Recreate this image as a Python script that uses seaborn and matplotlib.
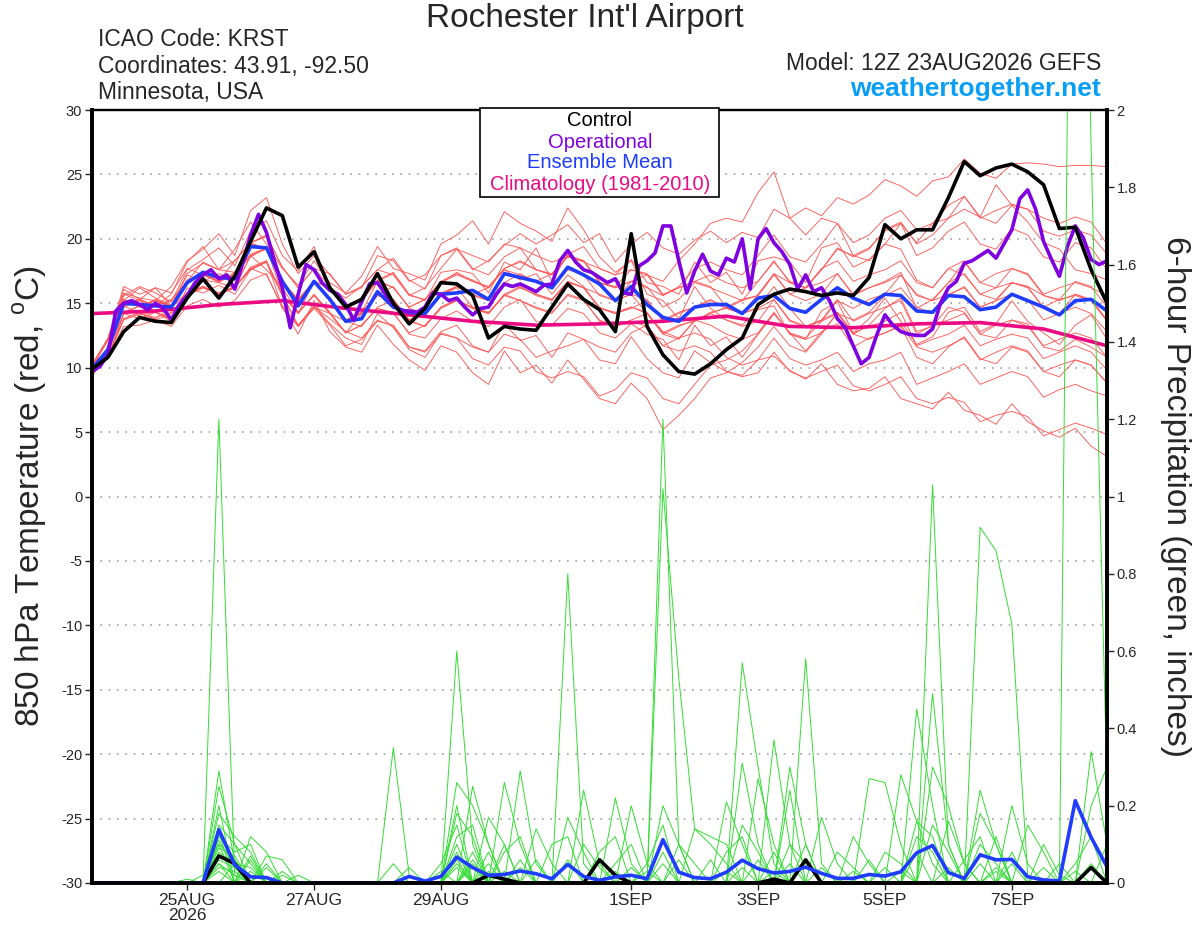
import numpy as np
import pandas as pd
import matplotlib
matplotlib.use('Agg')
import matplotlib.pyplot as plt
from matplotlib.patches import Rectangle
import seaborn as sns

# --- data (6-hourly GEFS, 12Z 23AUG2026) ---
start = pd.Timestamp('2026-08-23 12:00')
times = pd.date_range(start, periods=65, freq='6h')
times_op = pd.date_range(start, periods=129, freq='3h')
times_clim = pd.date_range(start, periods=17, freq='24h')

control = [9.9, 10.8, 12.8, 13.9, 13.6, 13.5, 15.4, 16.9, 15.4, 17.1, 19.8, 22.4, 21.8,
           17.8, 19.0, 16.2, 14.7, 15.3, 17.3, 15.0, 13.4, 14.6, 16.6, 16.5, 15.6,
           12.3, 13.2, 13.0, 12.9, 14.7, 16.5, 15.3, 14.5, 12.8, 20.4, 13.2, 11.0, 9.7,
           9.5, 10.3, 11.4, 12.3, 14.9, 15.7, 16.1,
           15.9, 15.6, 15.8, 15.6, 17.0, 21.1, 20.0, 20.7, 20.7, 23.2, 26.0, 24.9, 25.5,
           25.8, 25.2, 24.2, 20.8, 20.9, 17.6, 15.0]

operational = [9.7, 10.1, 11.0, 14.4, 15.0, 15.2, 14.9, 14.5, 15.0, 14.6, 13.7, 14.9, 15.6,
               16.6, 17.2, 17.6, 16.9, 17.2, 16.1, 18.1, 20.3, 21.9, 20.5, 18.3, 16.2, 13.1,
               15.7, 18.0, 17.6, 16.6, 16.0, 15.7, 14.9, 13.7, 15.1, 16.5, 16.6, 15.7, 14.9,
               14.4, 14.4, 14.3, 14.7, 15.8, 15.7, 15.2, 15.4, 14.7, 14.1,
               14.6, 14.7, 15.7, 16.5, 16.3, 16.5, 16.2, 15.9, 16.4, 16.5, 18.3, 19.1, 18.2,
               17.6, 17.4, 17.0, 16.6, 16.9, 15.8, 15.7, 17.9, 18.3, 18.9, 21.0, 21.0, 18.3,
               15.8, 17.5, 18.8, 17.5, 17.2, 18.5, 18.2, 20.0, 16.1, 20.0, 20.8, 19.7, 19.0,
               18.0, 16.1,
               17.2, 15.9, 16.2, 15.2, 13.8, 13.1, 11.7, 10.3, 10.8, 12.6, 14.1, 13.3, 12.8,
               12.6, 12.5, 12.5, 13.0, 15.0, 16.2, 16.7, 18.1, 18.3, 18.7, 19.1, 18.5, 19.6,
               20.7, 23.1, 23.8, 22.3, 19.8, 18.4, 17.1, 19.4, 21.0, 20.1, 18.4, 18.0, 18.3]

ens_mean = [9.9, 11.4, 15.0, 14.9, 14.8, 14.7, 16.6, 17.4, 17.0, 16.9, 19.4, 19.3, 16.7,
            14.8, 16.7, 15.3, 13.6, 13.8, 15.9, 14.7, 14.3, 14.2, 15.7, 15.8, 16.0, 15.3,
            17.3, 17.0, 16.7, 16.2, 17.8, 17.2, 16.5, 15.2, 16.3, 14.9, 13.9, 13.6, 14.7,
            14.9, 14.9, 14.2, 15.4, 15.6, 14.6, 14.3, 15.3, 16.2, 15.4, 14.9, 15.7, 15.6,
            14.4, 14.3, 15.6, 15.5, 14.5, 14.7, 15.7, 15.2, 14.7, 14.1, 15.2, 15.3, 14.4]

climatology = [14.2, 14.4, 14.9, 15.2, 14.6, 14.1, 13.6, 13.3, 13.4, 13.6, 14.0, 13.2,
               13.1, 13.4, 13.5, 13.0, 11.7]

# ensemble members, 65 six-hourly values each (rows of 8, last row 9)
temp_members = [
    [10.2, 11.4, 15.6, 16.3, 15.8, 15.1, 17.6, 18.4, 19.3, 17.9, 20.6, 21.4, 18.7, 17.5, 19.4, 16.2,
     15.4, 16.3, 17.6, 18.5, 16.8, 16.1, 18.7, 19.2, 17.6, 18.3, 19.5, 20.4, 19.6, 20.3, 21.1, 19.7,
     20.4, 18.2, 19.6, 20.5, 19.3, 18.8, 19.9, 20.6, 19.7, 20.5, 20.1, 22.3, 21.6, 22.4, 21.8, 23.2,
     22.7, 23.4, 24.6, 24.1, 23.3, 24.5, 24.8, 26.2, 25.1, 24.7, 25.8, 25.9, 25.8, 25.6, 25.7, 25.7, 25.6],
    [9.8, 10.9, 13.7, 14.2, 13.9, 14.3, 15.6, 16.2, 15.7, 16.3, 17.6, 18.2, 15.6, 13.3, 14.8, 13.4,
     12.3, 11.8, 14.2, 13.1, 11.4, 10.8, 12.7, 12.3, 11.6, 11.2, 13.4, 12.1, 12.5, 10.8, 12.7, 12.2,
     10.6, 10.3, 12.4, 10.7, 9.6, 9.2, 11.3, 10.4, 9.7, 9.4, 10.6, 10.9, 9.8, 9.1, 10.3, 8.7,
     8.2, 8.4, 9.3, 7.6, 7.2, 6.8, 8.1, 6.7, 6.3, 5.6, 7.2, 5.8, 5.1, 4.6, 5.3, 3.9, 3.1],
    [10.1, 12.2, 16.1, 15.3, 14.8, 15.7, 18.2, 19.4, 17.6, 19.2, 21.3, 19.6, 17.7, 16.4, 18.3, 16.6,
     15.8, 17.1, 19.4, 17.7, 17.3, 16.8, 19.6, 20.3, 21.4, 19.6, 22.1, 21.2, 20.6, 19.8, 22.4, 20.7,
     18.6, 17.4, 18.3, 15.7, 15.2, 13.8, 16.3, 14.6, 13.7, 13.3, 14.5, 14.8, 12.6, 12.2, 14.4, 15.1,
     12.7, 13.8, 15.4, 13.6, 11.8, 12.4, 14.3, 14.7, 12.8, 13.4, 15.2, 13.6, 12.7, 11.8, 13.3, 14.1, 12.2],
    [9.4, 10.8, 13.8, 14.1, 14.3, 13.6, 16.2, 15.8, 16.4, 15.7, 17.6, 18.3, 14.7, 12.6, 15.2, 12.8,
     11.6, 11.2, 13.3, 11.8, 10.6, 9.8, 11.7, 11.2, 9.6, 8.7, 11.3, 9.6, 10.2, 8.8, 10.6, 9.1,
     7.6, 7.2, 8.8, 7.6, 5.2, 6.3, 7.6, 9.2, 9.6, 10.4, 11.6, 13.2, 11.7, 11.2, 12.6, 14.3,
     12.6, 13.3, 14.6, 15.4, 12.8, 13.2, 14.7, 14.3, 12.6, 12.3, 13.7, 13.4, 11.6, 11.3, 12.2, 11.6, 10.8],
    [10.3, 12.1, 15.2, 16.2, 15.4, 14.8, 17.3, 18.1, 17.6, 17.4, 19.7, 20.3, 17.8, 16.2, 17.7, 16.3,
     14.6, 15.4, 16.8, 17.4, 15.7, 15.2, 17.4, 17.6, 17.3, 15.8, 18.2, 17.6, 19.3, 16.7, 18.8, 19.4,
     17.7, 17.2, 18.4, 16.6, 16.3, 15.7, 18.2, 16.6, 17.4, 15.7, 18.3, 18.6, 18.2, 16.6, 19.3, 19.7,
     17.8, 18.4, 19.6, 21.2, 18.7, 19.3, 20.6, 21.3, 19.6, 19.2, 20.8, 20.3, 18.6, 18.2, 19.7, 19.3, 17.6],
    [9.9, 10.7, 14.2, 14.8, 14.3, 13.8, 15.7, 16.3, 15.8, 16.2, 18.7, 17.6, 16.2, 14.3, 15.6, 14.2,
     12.7, 13.3, 14.6, 14.3, 12.6, 12.3, 13.8, 14.4, 13.6, 13.2, 14.7, 15.3, 13.6, 13.3, 14.6, 14.2,
     12.7, 12.3, 13.4, 12.6, 12.2, 10.6, 13.3, 11.7, 12.4, 10.8, 12.6, 14.2, 12.7, 11.3, 12.8, 13.4,
     11.6, 12.3, 12.7, 13.2, 10.8, 10.3, 11.6, 12.4, 10.7, 10.3, 11.6, 11.2, 9.7, 9.3, 10.6, 10.2, 8.8],
    [10.2, 12.3, 15.8, 15.4, 15.2, 16.3, 18.3, 19.2, 20.4, 18.7, 22.2, 23.2, 19.6, 17.3, 18.7, 17.2,
     15.7, 16.3, 17.6, 17.2, 15.6, 15.3, 16.7, 17.3, 16.8, 16.2, 17.6, 16.8, 17.3, 15.7, 17.2, 16.3,
     14.6, 14.3, 14.7, 14.2, 12.7, 13.3, 13.6, 14.2, 14.7, 15.3, 15.6, 17.2, 15.7, 15.2, 15.7, 17.3,
     15.6, 16.2, 16.7, 17.4, 14.6, 15.3, 16.6, 18.2, 16.6, 17.3, 17.7, 17.2, 15.6, 15.3, 16.7, 16.3, 14.7],
    [10.1, 11.2, 14.8, 15.3, 16.2, 14.8, 16.7, 17.3, 16.6, 17.4, 18.6, 19.3, 15.7, 14.2, 16.7, 15.3,
     13.6, 14.3, 16.7, 16.2, 14.7, 15.3, 16.6, 17.4, 16.7, 16.3, 17.7, 18.2, 17.6, 17.3, 18.6, 18.3,
     16.6, 16.3, 17.6, 17.2, 16.7, 18.3, 19.6, 21.2, 21.6, 21.3, 23.6, 25.2, 21.6, 20.3, 21.6, 21.2,
     18.7, 18.3, 19.6, 19.2, 16.8, 16.2, 17.7, 17.2, 15.7, 15.3, 16.6, 16.3, 14.6, 14.2, 15.7, 15.2, 13.6],
    [9.9, 10.8, 14.2, 13.8, 14.3, 13.7, 15.8, 16.3, 15.7, 16.2, 17.7, 17.2, 14.8, 13.3, 14.7, 13.8,
     12.8, 12.3, 13.7, 13.2, 11.6, 11.3, 12.8, 13.3, 11.7, 11.2, 12.6, 12.2, 10.8, 11.3, 11.7, 12.2,
     11.6, 11.2, 12.7, 13.3, 11.7, 12.3, 13.6, 14.3, 14.6, 14.2, 15.7, 17.3, 16.6, 16.2, 17.6, 19.3,
     18.6, 19.2, 20.7, 21.3, 19.6, 20.3, 21.6, 22.3, 21.7, 21.2, 22.6, 22.3, 20.6, 20.2, 20.7, 20.3, 18.8],
    [10.0, 12.1, 15.3, 14.7, 15.2, 14.8, 17.2, 16.7, 17.3, 16.8, 19.6, 19.2, 16.7, 15.3, 16.7, 15.2,
     13.7, 14.3, 15.7, 16.3, 14.6, 14.2, 15.8, 16.3, 15.7, 15.2, 16.6, 17.3, 16.6, 16.2, 17.6, 17.2,
     15.6, 15.2, 15.7, 15.3, 13.6, 14.2, 14.7, 15.3, 14.6, 14.2, 14.7, 16.3, 14.6, 13.2, 13.7, 15.3,
     13.6, 14.2, 14.7, 15.2, 12.6, 13.3, 13.7, 14.2, 12.6, 13.3, 13.7, 13.2, 11.7, 12.2, 12.7, 12.3, 10.8],
    [10.1, 11.2, 14.7, 15.3, 14.8, 15.2, 16.7, 17.3, 16.8, 17.2, 19.7, 20.2, 16.7, 15.2, 16.7, 16.3,
     14.7, 15.2, 16.7, 17.3, 15.6, 16.2, 17.7, 19.2, 18.7, 18.2, 19.6, 19.3, 18.7, 18.2, 18.6, 18.3,
     16.7, 15.2, 15.7, 14.2, 12.8, 12.3, 12.7, 12.2, 10.8, 10.2, 10.6, 12.3, 10.7, 10.2, 10.6, 11.2,
     9.7, 10.3, 10.6, 11.2, 8.7, 9.2, 9.7, 10.3, 8.7, 9.2, 9.7, 9.3, 7.7, 8.3, 8.7, 8.2, 7.8],
    [9.8, 11.3, 14.8, 14.2, 13.8, 14.7, 15.8, 16.3, 15.7, 16.2, 17.8, 18.3, 15.6, 14.2, 15.7, 14.3,
     12.7, 14.2, 15.8, 15.2, 13.7, 14.2, 15.7, 16.3, 15.6, 15.2, 16.6, 16.2, 15.7, 15.3, 16.6, 16.2,
     14.6, 14.2, 14.7, 14.3, 12.6, 13.2, 13.7, 14.2, 13.7, 13.2, 13.6, 15.3, 13.7, 13.2, 13.6, 15.2,
     14.6, 15.3, 15.7, 17.2, 15.7, 15.2, 16.6, 17.3, 15.7, 16.2, 16.6, 16.3, 15.6, 15.2, 15.7, 15.3, 13.7],
    [10.2, 12.2, 16.3, 15.7, 16.2, 15.8, 17.7, 17.2, 16.7, 18.3, 19.7, 20.2, 17.8, 16.2, 17.7, 17.3,
     15.7, 16.2, 18.7, 18.3, 16.7, 17.2, 18.7, 19.3, 17.7, 17.2, 18.6, 19.3, 17.6, 17.2, 18.7, 18.3,
     16.6, 16.2, 16.7, 16.3, 14.7, 15.3, 16.6, 16.2, 15.7, 15.2, 16.7, 18.3, 16.6, 16.2, 17.7, 18.3,
     16.7, 17.2, 17.6, 18.3, 16.6, 16.2, 17.7, 18.3, 16.6, 16.2, 17.7, 17.3, 15.7, 16.2, 16.6, 16.2, 15.6],
    [9.9, 11.2, 14.3, 14.8, 15.2, 14.7, 15.8, 16.7, 15.6, 16.3, 17.7, 18.2, 15.7, 13.2, 14.6, 13.3,
     11.7, 12.2, 13.6, 13.3, 11.6, 11.2, 12.6, 12.3, 10.7, 10.2, 11.6, 11.3, 9.7, 9.2, 9.7, 9.3,
     7.8, 8.3, 9.6, 9.2, 7.6, 7.2, 8.7, 10.2, 10.6, 11.3, 12.6, 14.2, 12.7, 12.3, 13.6, 14.2,
     13.7, 14.3, 15.6, 16.2, 14.7, 14.2, 15.6, 16.3, 14.7, 15.2, 16.6, 16.2, 14.7, 15.3, 15.6, 15.2, 13.7],
    [10.0, 11.3, 15.2, 14.7, 15.3, 14.8, 16.8, 17.2, 16.7, 17.2, 18.8, 19.3, 16.7, 15.2, 16.6, 16.3,
     14.7, 15.2, 16.8, 16.2, 14.7, 15.3, 16.6, 17.2, 16.7, 16.2, 17.7, 18.3, 17.6, 17.2, 18.7, 18.3,
     16.6, 16.2, 16.7, 17.2, 15.6, 16.3, 17.7, 18.2, 17.6, 17.2, 18.7, 20.3, 18.6, 18.2, 19.6, 21.2,
     19.7, 20.3, 21.6, 22.2, 20.7, 21.2, 21.6, 23.3, 21.6, 22.2, 22.7, 22.3, 21.6, 21.2, 21.7, 21.3, 19.6],
    [9.6, 10.8, 13.8, 14.3, 13.7, 14.2, 15.7, 16.2, 15.8, 16.3, 17.6, 18.2, 15.7, 14.3, 15.6, 14.2,
     12.7, 13.3, 14.6, 14.2, 12.7, 13.3, 14.7, 15.2, 14.6, 14.2, 15.6, 15.2, 14.7, 14.3, 15.6, 15.2,
     13.7, 13.2, 13.6, 13.2, 11.7, 11.3, 11.7, 11.2, 9.7, 9.3, 9.6, 11.2, 9.7, 9.2, 9.7, 10.2,
     8.6, 8.2, 8.7, 9.3, 7.6, 7.2, 7.7, 7.3, 5.8, 6.3, 6.6, 6.2, 4.7, 5.2, 5.7, 5.3, 4.8],
    [10.1, 10.8, 13.2, 13.3, 13.7, 13.2, 14.8, 15.3, 14.7, 15.2, 16.8, 17.3, 14.6, 13.2, 14.7, 14.2,
     13.6, 14.2, 15.7, 15.3, 13.7, 14.2, 15.6, 16.3, 15.7, 16.2, 17.6, 17.2, 16.7, 17.3, 18.6, 18.2,
     17.7, 17.2, 17.6, 17.3, 15.7, 16.2, 16.7, 16.3, 14.7, 14.2, 14.6, 15.3, 13.6, 13.2, 13.7, 14.3,
     12.7, 13.2, 13.6, 14.3, 11.7, 12.2, 12.6, 13.3, 11.7, 12.2, 12.6, 12.3, 10.7, 11.2, 11.7, 11.2, 9.8],
    [10.2, 12.2, 15.7, 15.2, 14.8, 15.3, 16.7, 18.2, 17.6, 18.3, 19.7, 19.2, 16.7, 15.2, 16.7, 15.3,
     13.7, 14.2, 15.6, 15.3, 13.7, 13.2, 14.6, 15.2, 14.7, 14.2, 15.7, 16.3, 15.6, 15.2, 16.7, 16.2,
     15.7, 15.2, 16.7, 16.2, 15.6, 16.2, 16.7, 17.2, 16.6, 16.2, 16.7, 18.2, 16.7, 16.2, 16.6, 17.3,
     15.7, 16.2, 16.6, 17.2, 15.6, 15.2, 15.7, 16.2, 14.7, 15.2, 15.7, 15.3, 13.7, 14.2, 14.7, 14.2, 12.8],
    [10.0, 11.2, 15.3, 14.8, 15.2, 14.7, 16.8, 17.2, 16.7, 17.3, 18.7, 19.2, 16.6, 15.3, 16.7, 15.2,
     13.7, 14.3, 15.6, 15.2, 13.7, 14.3, 15.6, 16.2, 14.7, 14.3, 15.6, 16.2, 15.7, 15.3, 16.7, 16.2,
     14.7, 14.2, 14.6, 15.2, 13.7, 14.3, 14.7, 15.2, 14.6, 15.2, 15.6, 17.3, 15.7, 16.2, 17.6, 19.2,
     18.7, 19.3, 20.6, 21.2, 19.7, 21.2, 22.6, 23.3, 21.7, 24.2, 22.6, 21.3, 19.7, 19.2, 17.6, 17.3, 16.8],
    [9.8, 11.2, 14.7, 15.2, 14.3, 13.8, 15.7, 16.8, 16.6, 16.2, 18.7, 19.3, 16.6, 15.2, 16.7, 15.3,
     13.6, 13.2, 14.7, 15.2, 13.6, 13.2, 14.7, 15.3, 14.6, 14.2, 15.7, 15.2, 14.6, 14.2, 15.7, 15.3,
     13.6, 13.2, 13.7, 14.2, 12.6, 12.2, 13.7, 13.3, 12.6, 12.2, 12.7, 14.3, 12.6, 12.2, 12.7, 14.2,
     12.6, 12.2, 12.7, 13.3, 11.6, 11.2, 11.7, 12.3, 10.6, 11.2, 11.7, 11.3, 9.7, 10.2, 10.6, 10.2, 8.8],
]

precip_control = [0, 0, 0, 0, 0, 0, 0, 0, 0.07, 0.05, 0, 0, 0, 0, 0, 0,
                  0, 0, 0, 0, 0, 0, 0, 0, 0, 0.02, 0.01, 0, 0, 0, 0, 0,
                  0.06, 0.02, 0, 0, 0, 0, 0, 0, 0, 0, 0, 0.01, 0, 0.06, 0, 0,
                  0, 0, 0, 0, 0, 0, 0, 0, 0, 0, 0, 0, 0, 0, 0, 0.04, 0]

precip_mean = [0, 0, 0, 0, 0, 0, 0, 0, 0.138, 0.047, 0.016, 0.014, 0, 0, 0, 0,
               0, 0, 0, 0, 0.017, 0.005, 0.017, 0.067, 0.04, 0.02, 0.022, 0.031, 0.024, 0.011, 0.048, 0.017,
               0.007, 0.016, 0.02, 0.011, 0.112, 0.028, 0.014, 0.011, 0.028, 0.059, 0.037, 0.026, 0.03, 0.041, 0.025, 0.012,
               0.012, 0.022, 0.018, 0.029, 0.078, 0.097, 0.027, 0.012, 0.073, 0.06, 0.061, 0.016, 0.008, 0.005, 0.213, 0.118, 0.042]

# member precip: only the non-zero 6-hour steps {step index: inches}
precip_members = [
    {8: 1.2, 9: 0.02, 23: 0.6, 24: 0.1, 36: 1.2, 37: 0.1, 53: 1.03, 54: 0.1},
    {8: 0.29, 9: 0.05, 19: 0.35, 20: 0.02, 30: 0.8, 31: 0.05, 56: 0.92, 57: 0.86, 58: 0.67, 59: 0.02},
    {8: 0.25, 9: 0.1, 10: 0.05, 23: 0.26, 24: 0.2, 25: 0.1, 36: 1.02, 37: 0.53, 38: 0.14, 39: 0.1, 40: 0.05},
    {8: 0.2, 10: 0.12, 11: 0.08, 23: 0.2, 26: 0.26, 27: 0.1, 41: 0.57, 42: 0.3, 43: 0.05, 52: 0.45, 53: 0.2},
    {8: 0.18, 9: 0.12, 10: 0.08, 24: 0.25, 25: 0.1, 27: 0.29, 28: 0.05, 41: 0.31, 42: 0.1, 45: 0.58, 46: 0.05,
     53: 0.49, 54: 0.1},
    {8: 0.15, 9: 0.1, 11: 0.07, 12: 0.06, 23: 0.18, 24: 0.12, 31: 0.24, 32: 0.05, 43: 0.37, 44: 0.1, 56: 0.24,
     57: 0.1, 62: 4.0, 63: 1.9, 64: 0.25},
    {8: 0.12, 9: 0.08, 10: 0.1, 19: 0.05, 25: 0.17, 26: 0.1, 33: 0.22, 34: 0.05, 44: 0.3, 45: 0.1, 49: 0.27,
     50: 0.26, 51: 0.1},
    {8: 0.1, 9: 0.06, 13: 0.02, 20: 0.04, 23: 0.12, 24: 0.15, 34: 0.2, 35: 0.05, 40: 0.21, 41: 0.1, 44: 0.24,
     51: 0.28, 52: 0.16, 53: 0.05},
    {8: 0.08, 9: 0.05, 10: 0.04, 22: 0.05, 23: 0.15, 28: 0.14, 29: 0.05, 36: 0.2, 37: 0.1, 42: 0.27, 43: 0.1,
     54: 0.16, 55: 0.05, 63: 0.34, 64: 0.1},
    {8: 0.06, 9: 0.04, 24: 0.08, 30: 0.17, 31: 0.08, 38: 0.14, 39: 0.12, 40: 0.1, 46: 0.17, 47: 0.05, 52: 0.16,
     53: 0.12, 58: 0.2, 59: 0.05},
    {8: 0.05, 10: 0.03, 23: 0.1, 25: 0.08, 32: 0.08, 33: 0.12, 41: 0.15, 42: 0.08, 48: 0.12, 49: 0.05, 56: 0.18,
     57: 0.1, 60: 0.1, 61: 0.02},
    {8: 0.04, 9: 0.03, 24: 0.06, 26: 0.08, 27: 0.12, 35: 0.05, 36: 0.15, 44: 0.1, 45: 0.05, 53: 0.3, 54: 0.2,
     55: 0.05, 59: 0.15, 60: 0.08},
    {9: 0.05, 11: 0.04, 23: 0.08, 29: 0.1, 30: 0.12, 37: 0.1, 38: 0.05, 45: 0.1, 52: 0.12, 53: 0.08, 57: 0.12,
     63: 0.2, 64: 0.3},
    {8: 0.07, 9: 0.06, 12: 0.03, 24: 0.05, 26: 0.1, 33: 0.05, 34: 0.1, 40: 0.08, 41: 0.12, 50: 0.08, 51: 0.05,
     56: 0.1, 57: 0.05, 62: 0.05, 63: 0.12},
    {7: 0.02, 8: 0.1, 10: 0.06, 23: 0.06, 25: 0.05, 30: 0.06, 36: 0.08, 42: 0.06, 47: 0.08, 48: 0.04, 53: 0.15,
     54: 0.08, 58: 0.05},
    {8: 0.09, 9: 0.07, 11: 0.05, 22: 0.03, 27: 0.06, 31: 0.1, 32: 0.04, 39: 0.06, 43: 0.08, 49: 0.06, 55: 0.06,
     56: 0.12, 60: 0.04},
    {8: 0.11, 9: 0.04, 24: 0.04, 28: 0.06, 34: 0.04, 37: 0.06, 44: 0.05, 50: 0.04, 52: 0.08, 57: 0.04, 61: 0.05,
     64: 0.1},
    {8: 0.13, 10: 0.07, 23: 0.05, 27: 0.04, 35: 0.03, 41: 0.04, 46: 0.04, 54: 0.04, 58: 0.08},
    {6: 0.01, 8: 0.03, 12: 0.02, 25: 0.03, 33: 0.03, 40: 0.03, 48: 0.03, 56: 0.05, 62: 0.03},
    {8: 0.05, 9: 0.02, 23: 0.04, 26: 0.03, 36: 0.05, 43: 0.03, 51: 0.03, 57: 0.03, 63: 0.05},
]

tick_dates = pd.to_datetime(['2026-08-25', '2026-08-27', '2026-08-29', '2026-09-01',
                             '2026-09-03', '2026-09-05', '2026-09-07'])
tick_labels = ['25AUG\n2026', '27AUG', '29AUG', '1SEP', '3SEP', '5SEP', '7SEP']
precip_ticks = [0, 0.2, 0.4, 0.6, 0.8, 1, 1.2, 1.4, 1.6, 1.8, 2]
precip_tick_labels = ['0', '0.2', '0.4', '0.6', '0.8', '1', '1.2', '1.4', '1.6', '1.8', '2']

# --- long-form tables for the spaghetti ---
n = len(times)
temp_df = pd.DataFrame({
    'time': np.tile(times.values, len(temp_members)),
    'temp': np.concatenate([np.asarray(m, dtype=float) for m in temp_members]),
    'member': np.repeat(np.arange(len(temp_members)), n),
})

rows = []
for m, steps in enumerate(precip_members):
    vals = np.zeros(n)
    for k, v in steps.items():
        vals[k] = v
    rows.append(pd.DataFrame({'time': times, 'precip': vals, 'member': m}))
precip_df = pd.concat(rows, ignore_index=True)

# --- figure ---
sns.set_style('white')
plt.rcParams['font.family'] = ['Liberation Sans', 'DejaVu Sans']

W, H = 1200, 927
fig = plt.figure(figsize=(W / 100, H / 100), dpi=100)
ax = fig.add_axes([92 / W, 44 / H, 1015 / W, 773 / H])
ax2 = ax.twinx()

RED = '#ff5a5a'
GREEN = '#33dd33'
PURPLE = '#7f00e0'
BLUE = '#1f3cff'
PINK = '#eb0a82'

sns.lineplot(data=temp_df, x='time', y='temp', units='member', estimator=None,
             color=RED, lw=0.65, ax=ax, legend=False)
sns.lineplot(x=times_clim, y=climatology, color=PINK, lw=2.6, ax=ax)
sns.lineplot(x=times, y=ens_mean, color=BLUE, lw=2.6, ax=ax)
sns.lineplot(x=times_op, y=operational, color=PURPLE, lw=2.6, ax=ax)
sns.lineplot(x=times, y=control, color='black', lw=2.6, ax=ax)

sns.lineplot(data=precip_df, x='time', y='precip', units='member', estimator=None,
             color=GREEN, lw=0.7, ax=ax2, legend=False)
sns.lineplot(x=times, y=precip_control, color='black', lw=2.6, ax=ax2)
sns.lineplot(x=times, y=precip_mean, color=BLUE, lw=2.6, ax=ax2)

ax.set_xlim(times[0], times[-1])
ax.set_ylim(-30, 30)
ax2.set_ylim(0, 2)
ax.set_yticks(range(-30, 31, 5))
ax.set_yticklabels([str(v) for v in range(-30, 31, 5)])
ax2.set_yticks(precip_ticks)
ax2.set_yticklabels(precip_tick_labels)
ax.set_xticks(tick_dates)
ax.set_xticklabels(tick_labels)
for t in ax.get_xticklabels():
    t.set_linespacing(1.0)
for a in (ax, ax2):
    a.set_xlabel('')
    a.set_ylabel('')

ax.yaxis.grid(True, color='#a0a0a0', linestyle=(0, (1, 4)), lw=1.2)
ax.xaxis.grid(False)
ax.tick_params(axis='y', direction='out', length=5, width=1, labelsize=10.5, pad=2, left=True)
ax.tick_params(axis='x', direction='out', length=5, width=1, labelsize=12.5, pad=2, bottom=True)
ax2.tick_params(axis='y', direction='out', length=5, width=1, labelsize=10.5, pad=2, right=True)

for a in (ax, ax2):
    for side in ('left', 'right', 'bottom'):
        a.spines[side].set_linewidth(2.6)
        a.spines[side].set_color('black')
    a.spines['top'].set_linewidth(1.6)
    a.spines['top'].set_color('black')

# --- header texts ---
fig.text(585 / W, 1 - 18 / H, "Rochester Int'l Airport", ha='center', va='center', fontsize=24)
fig.text(98 / W, 1 - 40 / H, 'ICAO Code: KRST', va='center', fontsize=16.5)
fig.text(98 / W, 1 - 66 / H, 'Coordinates: 43.91, -92.50', va='center', fontsize=16.5)
fig.text(98 / W, 1 - 92 / H, 'Minnesota, USA', va='center', fontsize=16.5)
fig.text(1101 / W, 1 - 64 / H, 'Model: 12Z 23AUG2026 GEFS', ha='right', va='center', fontsize=16.5)
fig.text(1101 / W, 1 - 89 / H, 'weathertogether.net', ha='right', va='center',
         fontsize=19, fontweight='bold', color='#0a9ff5')

fig.text(30 / W, 1 - 496 / H, '850 hPa Temperature (red, $^\\mathregular{o}$C)',
         rotation=90, ha='center', va='center', fontsize=24)
fig.text(1175 / W, 1 - 496 / H, '6-hour Precipitation (green, inches)',
         rotation=270, ha='center', va='center', fontsize=24)

# --- legend box ---
fig.add_artist(Rectangle((480 / W, 1 - 197 / H), 239 / W, 89 / H, transform=fig.transFigure,
                         facecolor='white', edgecolor='black', lw=1.2, zorder=5))
legend_items = [('Control', 'black', 121), ('Operational', PURPLE, 142),
                ('Ensemble Mean', BLUE, 163), ('Climatology (1981-2010)', PINK, 185)]
for label, col, ypix in legend_items:
    fig.text(600 / W, 1 - ypix / H, label, ha='center', va='center', fontsize=14.5,
             color=col, zorder=6)

fig.savefig('out.png', dpi=100)
